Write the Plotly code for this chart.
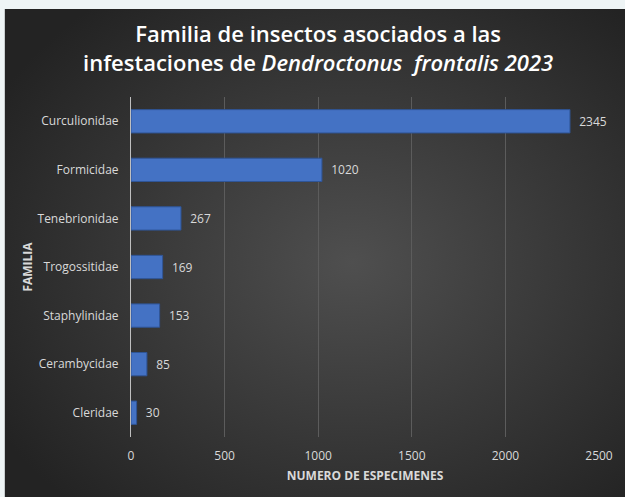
import plotly.graph_objects as go
import base64

familias = ["Curculionidae", "Formicidae", "Tenebrionidae", "Trogossitidae",
            "Staphylinidae", "Cerambycidae", "Cleridae"]
especimenes = [2345, 1020, 267, 169, 153, 85, 30]
x_ticks = [0, 500, 1000, 1500, 2000, 2500]

W, H = 625, 497
L, R, T, B = 131, 23, 97, 60
PW, PH = W - L - R, H - T - B

svg = f'''<svg xmlns="http://www.w3.org/2000/svg" width="{W}" height="{H}" viewBox="0 0 {W} {H}" preserveAspectRatio="none">
<defs><radialGradient id="g" cx="55%" cy="50%" r="65%">
<stop offset="0%" stop-color="#4f4f4f"/><stop offset="100%" stop-color="#232323"/>
</radialGradient></defs>
<rect x="0" y="0" width="{W}" height="{H}" fill="url(#g)"/></svg>'''
src = "data:image/svg+xml;base64," + base64.b64encode(svg.encode()).decode()

fig = go.Figure(go.Bar(
    x=especimenes, y=familias, orientation="h",
    marker=dict(color="#4472c4", line=dict(color="#2f5597", width=1)),
    text=[str(v) for v in especimenes], texttemplate="  %{text}", textposition="outside",
    textfont=dict(color="#d9d9d9", size=12, family="Open Sans"),
    cliponaxis=False,
))

fig.update_layout(
    width=W, height=H,
    paper_bgcolor="#2e2e2e", plot_bgcolor="rgba(0,0,0,0)",
    margin=dict(l=L, r=R, t=T, b=B),
    bargap=0.52,
    showlegend=False,
    font=dict(family="Open Sans", color="#d9d9d9"),
    title=dict(
        text="Familia de insectos asociados a las<br>infestaciones de <i>Dendroctonus  frontalis 2023</i>",
        x=0.509, xanchor="center", y=0.915, yanchor="middle",
        font=dict(size=22, color="#ffffff", family="Open Sans", weight=600),
    ),
    images=[dict(source=src, xref="paper", yref="paper",
                 x=-(L - 4) / PW, y=1 + (T - 9) / PH,
                 sizex=(W + 10) / PW, sizey=(H + 10) / PH,
                 xanchor="left", yanchor="top", sizing="stretch", layer="below")],
    shapes=[
        dict(type="rect", xref="paper", yref="paper", layer="above",
             x0=-(L + 5) / PW, x1=1 + (R + 5) / PW, y0=1 + (T - 9) / PH, y1=1 + (T + 5) / PH,
             fillcolor="#eef4f5", line=dict(width=0)),
        dict(type="rect", xref="paper", yref="paper", layer="above",
             x0=-(L + 5) / PW, x1=-(L - 4) / PW, y0=-(B + 5) / PH, y1=1 + (T + 5) / PH,
             fillcolor="#eef4f5", line=dict(width=0)),
    ],
    xaxis=dict(range=[0, 2500], tickvals=x_ticks, showgrid=True,
               gridcolor="#5c5c5c", gridwidth=1, zeroline=False,
               tickfont=dict(size=12, color="#d9d9d9"), ticklabelstandoff=10,
               title=dict(text="<b>NUMERO DE ESPECIMENES</b>", font=dict(size=12, color="#d9d9d9"), standoff=8),
               fixedrange=True),
    yaxis=dict(categoryorder="array", categoryarray=familias[::-1],
               showline=True, linecolor="#bfbfbf", linewidth=1,
               tickfont=dict(size=12, color="#d9d9d9"),
               ticks="", ticklabelstandoff=9,
               title=dict(text="<b>FAMILIA</b>", font=dict(size=12, color="#d9d9d9"), standoff=2)),
)

fig.write_html("out.html")
